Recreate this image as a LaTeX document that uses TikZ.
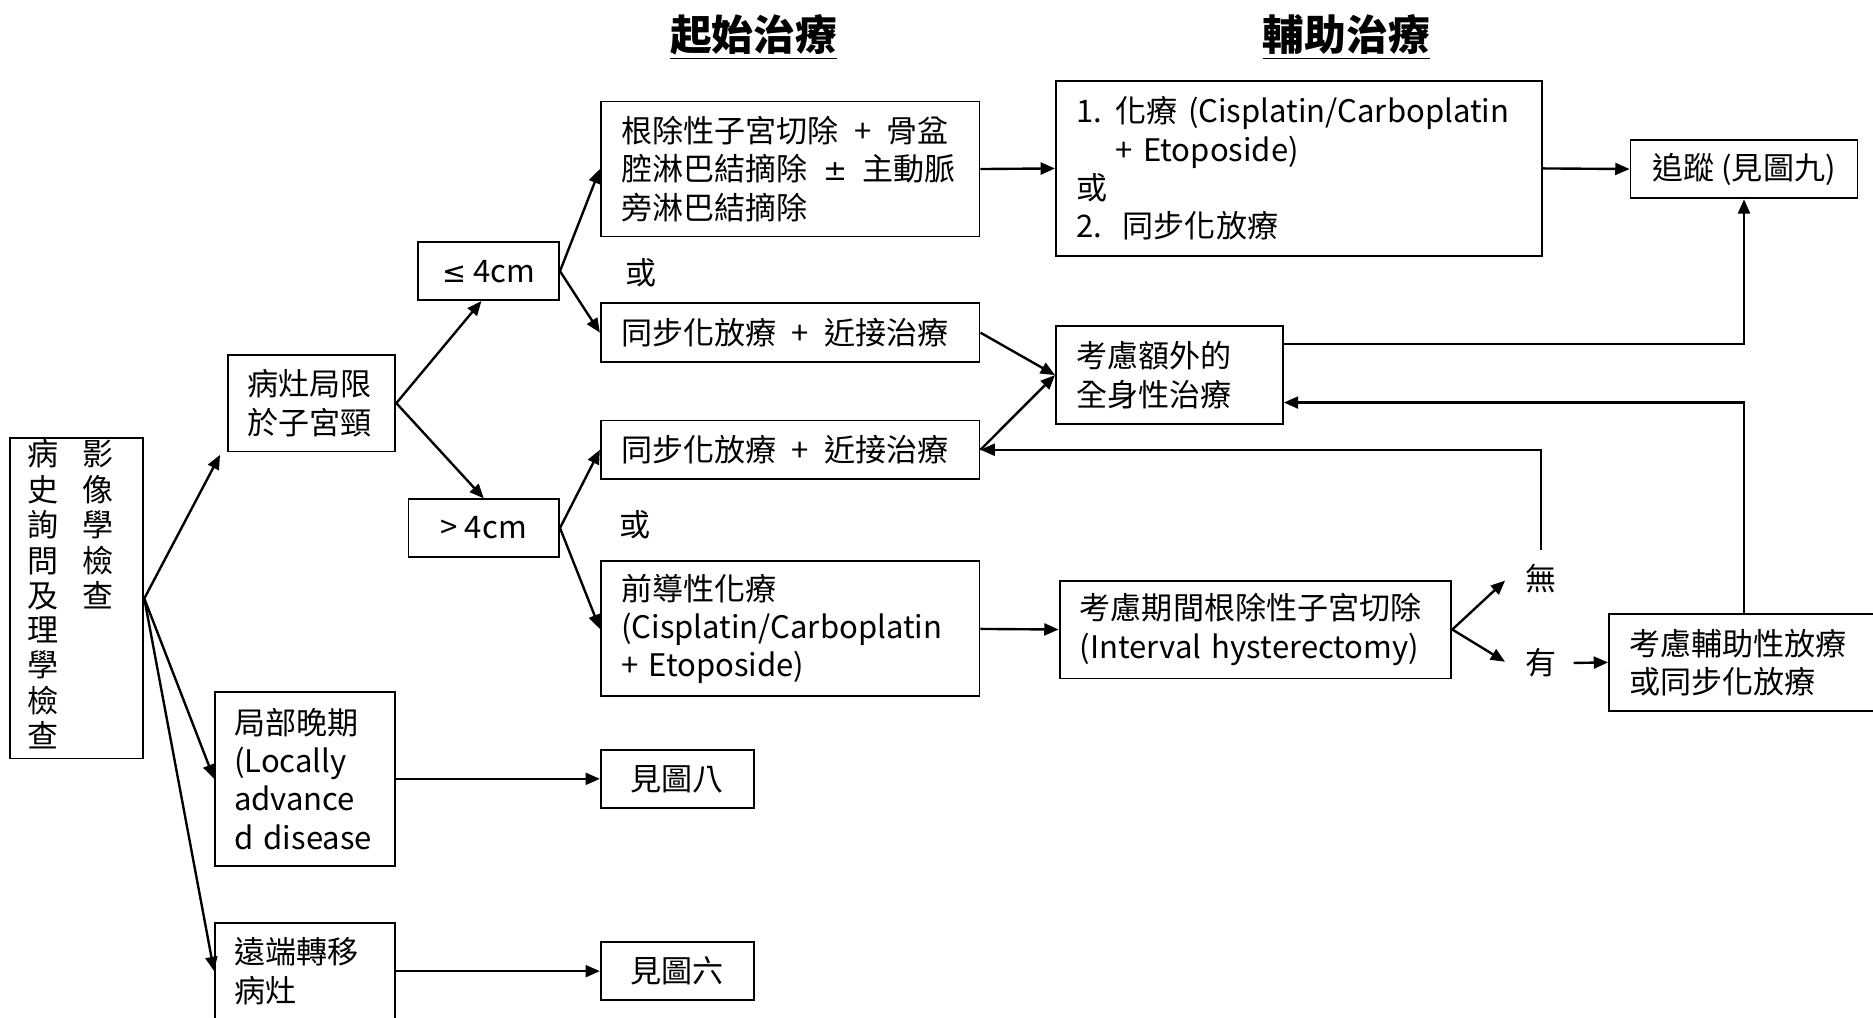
\documentclass[tikz,border=0pt]{standalone}
\usepackage{fontspec}
\setmainfont{Noto Sans CJK TC}
\newfontfamily\symfont{DejaVu Sans}
\usetikzlibrary{arrows.meta}
\begin{document}
\begin{tikzpicture}[x=0.5pt,y=-0.5pt,
  box/.style={draw, line width=0.8pt, inner xsep=8.5pt, inner ysep=0pt, align=left, font=\fontsize{13pt}{16pt}\selectfont},
  cbox/.style={draw, line width=0.8pt, inner sep=0pt, align=center, font=\fontsize{13pt}{16pt}\selectfont},
  lab/.style={inner xsep=7pt, inner ysep=5.5pt, font=\fontsize{13pt}{16pt}\selectfont},
  ttl/.style={inner sep=0pt, font=\fontsize{17.5pt}{20pt}\selectfont\bfseries},
  arr/.style={line width=1pt, -{Triangle[length=6pt,width=5pt]}},
]
\useasboundingbox (0,0) rectangle (1568,852);

% titles
\node[ttl] (t1) at (631,31) {\underline{起始治療}};
\node[ttl] (t2) at (1127,31) {\underline{輔助治療}};

% boxes
\node[box, inner xsep=7.5pt, text width=41pt, minimum height=134pt] (A) at (64,501)
  {\fontsize{13pt}{13pt}\selectfont\begin{tabular}{@{}c@{\hspace{10pt}}c@{}}病&影\\史&像\\詢&學\\問&檢\\及&查\\理&\\學&\\檢&\\查&\end{tabular}};
\node[box, inner xsep=8pt, text width=54pt, minimum height=40.5pt] (B) at (261,337.5) {病灶局限\\於子宮頸};
\node[cbox, minimum width=59pt, minimum height=24.25pt] (C) at (409,227) {{\symfont\fontsize{12pt}{14pt}\selectfont ≤} 4cm};
\node[cbox, minimum width=63pt, minimum height=24pt] (D) at (405,442) {> 4cm};
\node[box, text width=141.5pt, minimum height=56.5pt] (E) at (661.5,141.5) {根除性子宮切除 \,+\, 骨盆\\腔淋巴結摘除 \,{\symfont\fontsize{12pt}{14pt}\selectfont ±}\, 主動脈\\旁淋巴結摘除};
\node[box, text width=141.5pt, minimum height=24.5pt] (F) at (661.5,278.5) {同步化放療 \,+\, 近接治療};
\node[box, text width=141.5pt, minimum height=24.5pt] (G) at (661.5,376.5) {同步化放療 \,+\, 近接治療};
\node[box, text width=141.5pt, minimum height=56.5pt] (H) at (661.5,526.5) {前導性化療\\(Cisplatin/Carboplatin\\+ Etoposide)};
\node[box, text width=186.5pt, minimum height=73pt] (I) at (1087.5,141)
  {\makebox[16.5pt][l]{1.}化療 (Cisplatin/Carboplatin\\\makebox[16.5pt][l]{}+ Etoposide)\\或\\\makebox[19.5pt][l]{2.}同步化放療};
\node[cbox, minimum width=95pt, minimum height=24.5pt] (J) at (1460,141.5) {追蹤 (見圖九)};
\node[box, text width=78pt, minimum height=40.75pt] (K) at (979,314) {考慮額外的\\全身性治療};
\node[box, text width=147pt, minimum height=41pt] (L) at (1051,527) {考慮期間根除性子宮切除\\(Interval hysterectomy)};
\node[box, text width=104.5pt, minimum height=40.5pt] (M) at (1468.5,554.5) {考慮輔助性放療\\或同步化放療};
\node[box, inner xsep=8pt, text width=59.5pt, minimum height=73pt] (N) at (255.5,652) {局部晚期\\(Locally\\advance\\d disease};
\node[cbox, minimum width=64pt, minimum height=24.25pt] (O) at (567,652) {見圖八};
\node[box, inner xsep=8pt, text width=59.5pt, minimum height=40pt] (P) at (255.5,813) {遠端轉移\\病灶};
\node[cbox, minimum width=64pt, minimum height=24.25pt] (Q) at (567,813) {見圖六};

% labels
\node[lab] (or1) at (536.5,228) {或};
\node[lab] (or2) at (532,439) {或};
\node[lab] (wu) at (1290,484) {無};
\node[lab] (you) at (1290,555) {有};

% connectors
\draw[arr] (A.east) -- ([xshift=-3pt,yshift=-1pt]B.south west);
\draw[arr] (A.east) -- (N.west);
\draw[arr] (A.east) -- (P.west);
\draw[arr] (B.east) -- ([xshift=-3pt]C.south);
\draw[arr] (B.east) -- (D.north);
\draw[arr] (C.east) -- (E.west);
\draw[arr] (C.east) -- (F.west);
\draw[arr] (D.east) -- (G.west);
\draw[arr] (D.east) -- (H.west);
\draw[arr] (E.east) -- (I.west);
\draw[arr] (I.east) -- (J.west);
\draw[arr] (F.east) -- (K.west);
\draw[arr] (G.east) -- (K.west);
\draw[arr] (H.east) -- (L.west);
\coordinate (wutip) at (1260,486);
\coordinate (youtip) at (1260,554);
\draw[arr] (L.east) -- (wutip);
\draw[arr] (L.east) -- (youtip);
\draw[arr] (wu.north) |- (G.east);
\draw[arr] (you.east) -- (M.west);
\draw[arr] ([yshift=13pt]K.east) -| (J.south);
\draw[arr] (M.north -| J.south) |- ([yshift=-11.5pt]K.east);
\draw[arr] (N.east) -- (O.west);
\draw[arr] (P.east) -- (Q.west);
\end{tikzpicture}
\end{document}
